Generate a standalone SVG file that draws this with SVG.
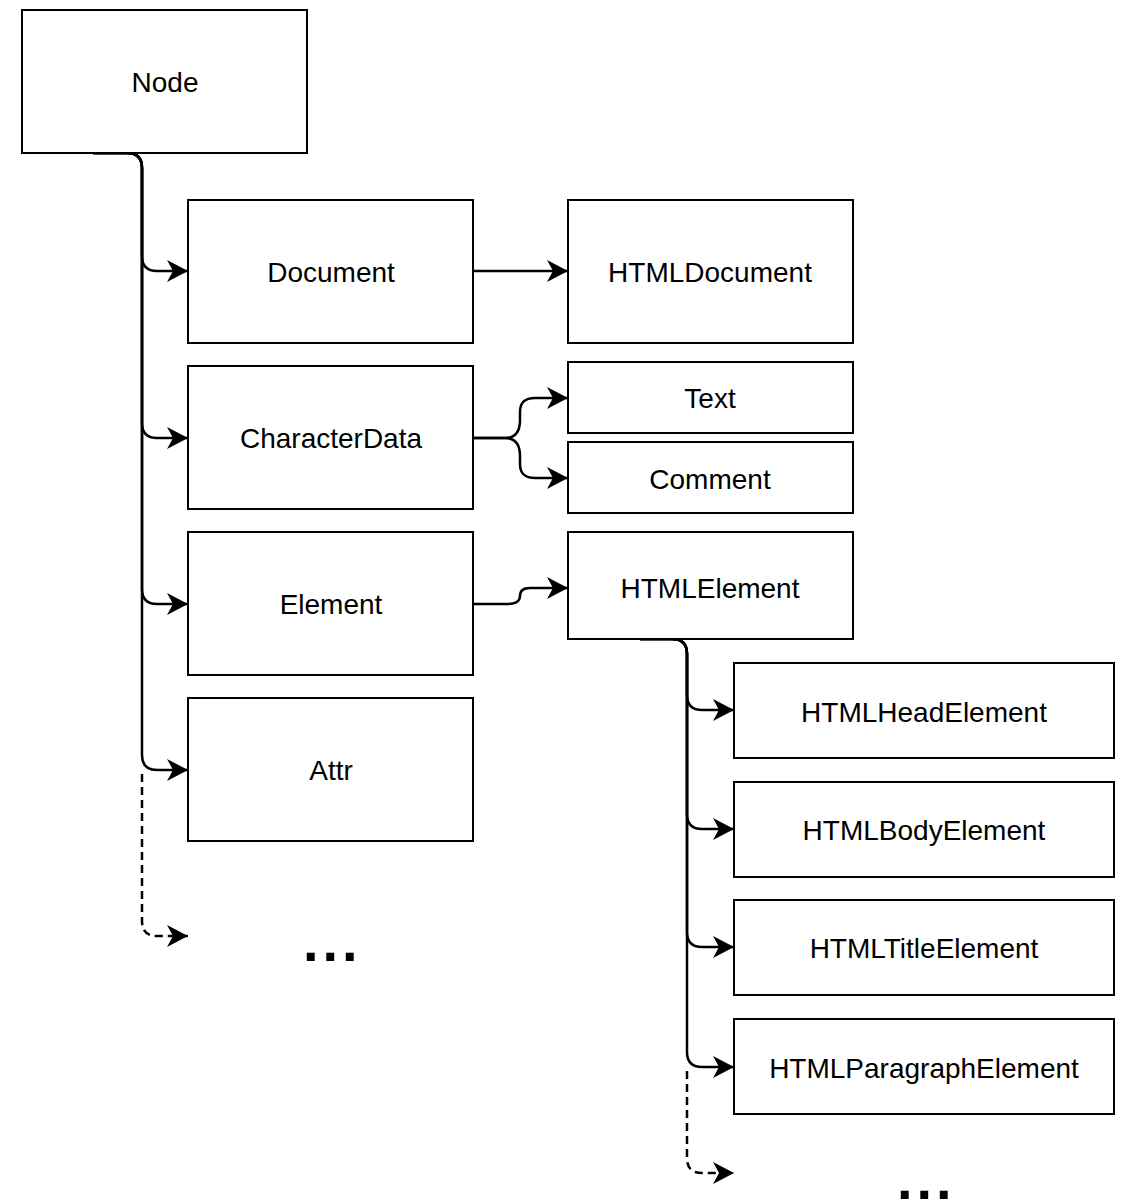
<svg xmlns="http://www.w3.org/2000/svg" width="1121" height="1201" viewBox="0 0 1121 1201">
<style>
.box{fill:#fff;stroke:#000;stroke-width:2}
.lbl{font-family:"Liberation Sans",Arial,sans-serif;font-size:28px;fill:#000;text-anchor:middle}
.edge{fill:none;stroke:#000;stroke-width:2.5;marker-end:url(#arr)}
.dash{fill:none;stroke:#000;stroke-width:2.5;stroke-dasharray:8 5;marker-end:url(#arr)}
.dots{font-family:"Liberation Sans",Arial,sans-serif;font-size:56px;font-weight:bold;fill:#000;letter-spacing:4px}
</style>
<defs>
<marker id="arr" markerUnits="userSpaceOnUse" viewBox="-22 -12 23 24" refX="0" refY="0" markerWidth="23" markerHeight="24" orient="auto">
<path d="M0,0 L-21,-11 L-15,0 L-21,11 Z" fill="#000"/>
</marker>
</defs>
<rect width="1121" height="1201" fill="#fff"/>
<g id="connectors">
<path class="edge" d="M93,153 H127 Q142,153 142,168 V256 Q142,271 157,271 H188"/>
<path class="edge" d="M93,153 H127 Q142,153 142,168 V423 Q142,438 157,438 H188"/>
<path class="edge" d="M93,153 H127 Q142,153 142,168 V589 Q142,604 157,604 H188"/>
<path class="edge" d="M93,153 H127 Q142,153 142,168 V755 Q142,770 157,770 H188"/>
<path class="dash" d="M142,774 V921 Q142,936 157,936 H188"/>
<path class="edge" d="M473,271 H568"/>
<path class="edge" d="M473,438 H505 C517,438 520,430 520,420 V412 C520,402 525,398 535,398 H568"/>
<path class="edge" d="M473,438 H505 C517,438 520,446 520,456 V464 C520,474 525,478 535,478 H568"/>
<path class="edge" d="M473,604 H508 C517,604 520,600 520,596 C520,591 523,588 530,588 H568"/>
<path class="edge" d="M640,639 H672 Q687,639 687,654 V695 Q687,710 702,710 H734"/>
<path class="edge" d="M640,639 H672 Q687,639 687,654 V814 Q687,829 702,829 H734"/>
<path class="edge" d="M640,639 H672 Q687,639 687,654 V932 Q687,947 702,947 H734"/>
<path class="edge" d="M640,639 H672 Q687,639 687,654 V1052 Q687,1067 702,1067 H734"/>
<path class="dash" d="M687,1071 V1158 Q687,1173 702,1173 H734"/>
</g>
<g id="node-Node"><rect class="box" x="22" y="10" width="285" height="143"/><text class="lbl" x="165" y="92">Node</text></g>
<g id="node-Document"><rect class="box" x="188" y="200" width="285" height="143"/><text class="lbl" x="331" y="282">Document</text></g>
<g id="node-HTMLDocument"><rect class="box" x="568" y="200" width="285" height="143"/><text class="lbl" x="710" y="282">HTMLDocument</text></g>
<g id="node-CharacterData"><rect class="box" x="188" y="366" width="285" height="143"/><text class="lbl" x="331" y="448">CharacterData</text></g>
<g id="node-Text"><rect class="box" x="568" y="362" width="285" height="71"/><text class="lbl" x="710" y="408">Text</text></g>
<g id="node-Comment"><rect class="box" x="568" y="442" width="285" height="71"/><text class="lbl" x="710" y="489">Comment</text></g>
<g id="node-Element"><rect class="box" x="188" y="532" width="285" height="143"/><text class="lbl" x="331" y="614">Element</text></g>
<g id="node-HTMLElement"><rect class="box" x="568" y="532" width="285" height="107"/><text class="lbl" x="710" y="598">HTMLElement</text></g>
<g id="node-Attr"><rect class="box" x="188" y="698" width="285" height="143"/><text class="lbl" x="331" y="780">Attr</text></g>
<g id="node-more1"><text class="dots" x="303" y="961">...</text></g>
<g id="node-HTMLHeadElement"><rect class="box" x="734" y="663" width="380" height="95"/><text class="lbl" x="924" y="722">HTMLHeadElement</text></g>
<g id="node-HTMLBodyElement"><rect class="box" x="734" y="782" width="380" height="95"/><text class="lbl" x="924" y="840">HTMLBodyElement</text></g>
<g id="node-HTMLTitleElement"><rect class="box" x="734" y="900" width="380" height="95"/><text class="lbl" x="924" y="958">HTMLTitleElement</text></g>
<g id="node-HTMLParagraphElement"><rect class="box" x="734" y="1019" width="380" height="95"/><text class="lbl" x="924" y="1078">HTMLParagraphElement</text></g>
<g id="node-more2"><text class="dots" x="897" y="1199">...</text></g>
</svg>
